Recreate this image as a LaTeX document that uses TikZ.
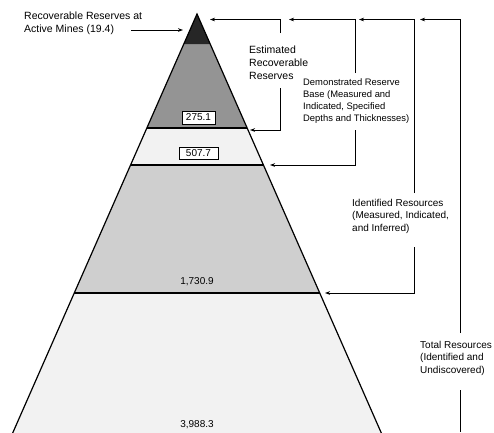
\documentclass[tikz,border=0pt]{standalone}
\usepackage{fontspec}
\setmainfont{Liberation Sans}
\usetikzlibrary{arrows.meta}
\definecolor{cA}{gray}{0.15}
\definecolor{cB}{gray}{0.58}
\definecolor{cC}{gray}{0.95}
\definecolor{cD}{gray}{0.81}
\definecolor{cE}{gray}{0.95}
\begin{document}
\begin{tikzpicture}[x=1pt,y=-1pt,
  lbl/.style={align=left,inner sep=0pt,anchor=north west,font=\fontsize{10}{12.5}\selectfont},
  biglbl/.style={align=left,inner sep=0pt,anchor=north west,font=\fontsize{10.5}{13}\selectfont},
  smlbl/.style={align=left,inner sep=0pt,anchor=north west,font=\fontsize{9.4}{12}\selectfont},
  conn/.style={line width=0.9pt,-{Stealth[length=5pt,width=3.6pt]}},
  plainconn/.style={line width=0.9pt},
  valbox/.style={draw,fill=white,line width=0.8pt,inner sep=0pt,font=\fontsize{10}{12}\selectfont},
  val/.style={inner sep=0pt,font=\fontsize{10}{12}\selectfont},
  edge/.style={line width=1.2pt},
  divider/.style={line width=1.3pt}]
\useasboundingbox (0,0) rectangle (494,432);
% pyramid geometry
\coordinate (apex) at (197,14);
\coordinate (l1) at (183.8,44);  \coordinate (r1) at (210.2,44);
\coordinate (l2) at (146.8,128); \coordinate (r2) at (247.2,128);
\coordinate (l3) at (130.6,165); \coordinate (r3) at (263.4,165);
\coordinate (l4) at (74.2,293);  \coordinate (r4) at (319.8,293);
\coordinate (l5) at (9.6,440);   \coordinate (r5) at (384.4,440);
\begin{scope}
\clip (0,0) rectangle (494,432);
\fill[cE] (l4) -- (r4) -- (r5) -- (l5) -- cycle;
\fill[cD] (l3) -- (r3) -- (r4) -- (l4) -- cycle;
\fill[cC] (l2) -- (r2) -- (r3) -- (l3) -- cycle;
\fill[cB] (l1) -- (r1) -- (r2) -- (l2) -- cycle;
\fill[cA] (apex) -- (r1) -- (l1) -- cycle;
\draw[edge] (l5) -- (apex) -- (r5);
\draw[divider] (l2) -- (r2);
\draw[divider] (l3) -- (r3);
\draw[divider] (l4) -- (r4);
\end{scope}
% value labels
\node[valbox,minimum width=33pt,minimum height=13pt] (v1) at (198.5,117.5) {275.1};
\node[valbox,minimum width=39pt,minimum height=11.5pt] (v2) at (198.5,153.5) {507.7};
\node[val] (v3) at (197,282) {1,730.9};
\node[val] (v4) at (197,425) {3,988.3};
% text labels
\node[biglbl] (rr) at (24,11.5) {Recoverable Reserves at\\Active Mines (19.4)};
\node[biglbl] (err) at (249,45.5) {Estimated\\Recoverable\\Reserves};
\node[smlbl] (drb) at (303,78) {Demonstrated Reserve\\Base (Measured and\\Indicated, Specified\\Depths and Thicknesses)};
\node[lbl] (ir) at (352,199) {Identified Resources\\(Measured, Indicated,\\and Inferred)};
\node[lbl] (tr) at (420,341) {Total Resources\\(Identified and\\Undiscovered)};
% connectors
\coordinate (a1) at (131,30); \coordinate (a2) at (183,30);
\draw[conn] (a1) -- (a2);
\coordinate (e1) at (280,33);  \coordinate (e2) at (210,19.5);
\coordinate (e3) at (280,88);  \coordinate (e4) at (250,130);
\draw[conn] (e1) |- (e2);
\draw[conn] (e3) |- (e4);
\coordinate (d1) at (355,73);  \coordinate (d2) at (289,19.5);
\coordinate (d3) at (355,130); \coordinate (d4) at (270,165);
\draw[conn] (d1) |- (d2);
\draw[conn] (d3) |- (d4);
\coordinate (i1) at (414.5,193); \coordinate (i2) at (359,19.5);
\coordinate (i3) at (414.5,247); \coordinate (i4) at (325,293);
\draw[conn] (i1) |- (i2);
\draw[conn] (i3) |- (i4);
\coordinate (t1) at (460,333); \coordinate (t2) at (420,19.5);
\coordinate (t3) at (460,390); \coordinate (t4) at (460,432);
\draw[conn] (t1) |- (t2);
\draw[plainconn] (t3) -- (t4);
\end{tikzpicture}
\end{document}
